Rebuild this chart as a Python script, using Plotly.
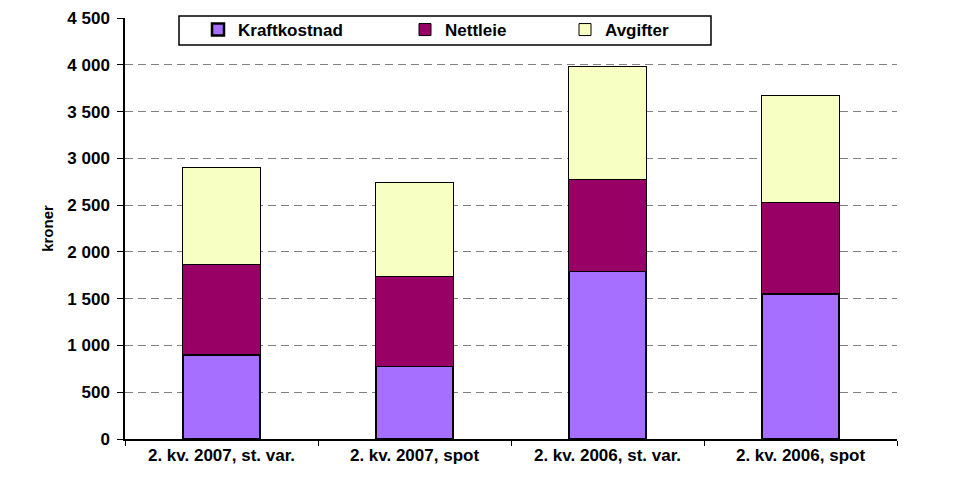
import plotly.graph_objects as go

categories = ["2. kv. 2007, st. var.", "2. kv. 2007, spot", "2. kv. 2006, st. var.", "2. kv. 2006, spot"]
kraftkostnad = [900, 780, 1795, 1550]
nettleie = [960, 955, 980, 975]
avgifter = [1040, 1010, 1210, 1150]
series_names = ["Kraftkostnad", "Nettleie", "Avgifter"]
y_ticks = [0, 500, 1000, 1500, 2000, 2500, 3000, 3500, 4000, 4500]

FONT = "Liberation Sans, Arial, sans-serif"

fig = go.Figure()
fig.add_trace(go.Bar(x=categories, y=kraftkostnad, name=series_names[0],
                     marker=dict(color="#A66FFF", line=dict(color="black", width=2.5)),
                     legend="legend"))
fig.add_trace(go.Bar(x=categories, y=nettleie, name=series_names[1],
                     marker=dict(color="#990066", line=dict(color="black", width=1)),
                     legend="legend2"))
fig.add_trace(go.Bar(x=categories, y=avgifter, name=series_names[2],
                     marker=dict(color="#F7FFC2", line=dict(color="black", width=1)),
                     legend="legend3"))

W, H = 955, 493
L, R, T, B = 125, 58, 18, 54
pw = W - L - R
ph = H - T - B

def px_x(x):
    return (x - L) / pw

def px_y(y):
    return (H - B - y) / ph

def leg(xpx):
    return dict(visible=True, orientation="h", bgcolor="rgba(0,0,0,0)", borderwidth=0,
                font=dict(family=FONT, size=17, color="black", weight="bold"),
                xanchor="left", yanchor="middle", y=px_y(30), x=px_x(xpx))

fig.update_layout(
    width=W, height=H,
    margin=dict(l=L, r=R, t=T, b=B, autoexpand=False),
    paper_bgcolor="white", plot_bgcolor="white",
    barmode="stack", bargap=0.6,
    separators=", ",
    showlegend=True,
    font=dict(family=FONT, size=16, color="black"),
    legend=leg(198),
    legend2=leg(405),
    legend3=leg(565),
    xaxis=dict(showline=True, linecolor="black", linewidth=1.5, automargin=False,
               ticks="outside", ticklen=5, tickcolor="black", tickson="boundaries",
               tickfont=dict(family=FONT, size=17, color="black", weight="bold"),
               showgrid=False),
    yaxis=dict(range=[0, 4500], tickvals=y_ticks, separatethousands=True, automargin=False,
               showline=True, linecolor="black", linewidth=1.5,
               ticks="outside", ticklen=6, tickcolor="black", ticklabelstandoff=4,
               tickfont=dict(family=FONT, size=17, color="black", weight="bold"),
               showgrid=True, gridcolor="#808080", griddash="8px,5px", gridwidth=1,
               zeroline=False,
               title=dict(text="kroner", standoff=10,
                          font=dict(family=FONT, size=15, color="black", weight="bold"))),
    shapes=[dict(type="rect", xref="paper", yref="paper",
                 x0=px_x(179), x1=px_x(711), y0=px_y(45), y1=px_y(16),
                 line=dict(color="black", width=1.5), fillcolor="white", layer="between")],
)
fig.write_html("out.html", config={"displayModeBar": False},
               post_script="document.body.style.margin='0';")
